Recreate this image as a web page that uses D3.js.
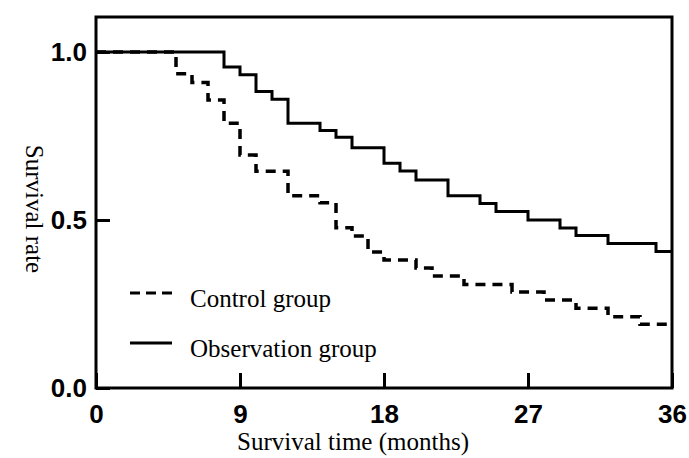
<!DOCTYPE html>
<html>
<head>
<meta charset="UTF-8">
<title>Survival curves</title>
<script src="https://cdn.jsdelivr.net/npm/d3@7"></script>
<style>
  body { margin: 0; background: #fff; }
</style>
</head>
<body>
<script>

// step points: month at which survival drops, survival after the drop
var controlTimes = [0, 5, 6, 7, 8, 9, 10, 12, 14, 15, 16, 17, 18, 20, 21, 23, 26, 28, 30, 32, 34, 36];
var controlRates = [1.0, 0.935, 0.909, 0.857, 0.788, 0.693, 0.645, 0.572, 0.551, 0.477, 0.452, 0.405, 0.381, 0.357, 0.333, 0.308, 0.286, 0.262, 0.237, 0.212, 0.190, 0.190];

var obsTimes = [0, 8, 9, 10, 11, 12, 14, 15, 16, 18, 19, 20, 22, 24, 25, 27, 29, 30, 32, 35, 36];
var obsRates = [1.0, 0.955, 0.932, 0.882, 0.859, 0.788, 0.766, 0.746, 0.715, 0.669, 0.646, 0.619, 0.572, 0.549, 0.525, 0.500, 0.476, 0.454, 0.430, 0.406, 0.406];

var xTicks = [0, 9, 18, 27, 36];
var yTicks = [0, 0.5, 1.0];
var seriesNames = ["Control group", "Observation group"];

var W = 689, H = 458;
var pLeft = 96, pRight = 672, pTop = 17, pBottom = 388;

var svg = d3.select("body").append("svg")
    .attr("width", W)
    .attr("height", H);

var x = d3.scaleLinear().domain([0, 36]).range([pLeft, pRight]);
var y = d3.scaleLinear().domain([0, 1.104]).range([pBottom, pTop]);

var line = d3.line()
    .x(function(d){ return x(d[0]); })
    .y(function(d){ return y(d[1]); })
    .curve(d3.curveStepAfter);

var control = controlTimes.map(function(t, i){ return [t, controlRates[i]]; });
var obs = obsTimes.map(function(t, i){ return [t, obsRates[i]]; });

svg.append("path")
    .datum(control)
    .attr("d", line)
    .attr("fill", "none")
    .attr("stroke", "#000")
    .attr("stroke-width", 3.5)
    .attr("stroke-dasharray", "10,7");

svg.append("path")
    .datum(obs)
    .attr("d", line)
    .attr("fill", "none")
    .attr("stroke", "#000")
    .attr("stroke-width", 3);

// axes, ticks inward
var xAxis = svg.append("g")
    .attr("transform", "translate(0," + pBottom + ")")
    .call(d3.axisBottom(x).tickValues(xTicks).tickSizeInner(-15).tickSizeOuter(0).tickPadding(17));

var yAxis = svg.append("g")
    .attr("transform", "translate(" + pLeft + ",0)")
    .call(d3.axisLeft(y).tickValues(yTicks).tickFormat(d3.format(".1f")).tickSizeInner(-14).tickSizeOuter(0).tickPadding(9));

[xAxis, yAxis].forEach(function(a){
    a.select(".domain").remove();
    a.selectAll(".tick line").attr("stroke", "#000").attr("stroke-width", 3);
    a.selectAll(".tick text")
        .attr("fill", "#000")
        .style("font-family", "'Liberation Sans', Arial, sans-serif")
        .style("font-weight", "bold")
        .style("font-size", "26px");
});

// frame
svg.append("rect")
    .attr("x", pLeft)
    .attr("y", pTop)
    .attr("width", pRight - pLeft)
    .attr("height", pBottom - pTop)
    .attr("fill", "none")
    .attr("stroke", "#000")
    .attr("stroke-width", 3);

// axis titles
var serif = "'Liberation Serif', 'Times New Roman', serif";

svg.append("text")
    .attr("x", 353)
    .attr("y", 450)
    .attr("text-anchor", "middle")
    .style("font-family", serif)
    .style("font-size", "25px")
    .text("Survival time (months)");

svg.append("text")
    .attr("transform", "translate(26,209) rotate(90)")
    .attr("text-anchor", "middle")
    .style("font-family", serif)
    .style("font-size", "25px")
    .text("Survival rate");

// legend
var legend = svg.append("g");
var legendY = [293, 343];
seriesNames.forEach(function(name, i){
    legend.append("line")
        .attr("x1", 130).attr("x2", 172)
        .attr("y1", legendY[i]).attr("y2", legendY[i])
        .attr("stroke", "#000")
        .attr("stroke-width", 3)
        .attr("stroke-dasharray", i === 0 ? "10,6" : null);
    legend.append("text")
        .attr("x", 190)
        .attr("y", legendY[i] + 14)
        .style("font-family", serif)
        .style("font-size", "25px")
        .text(name);
});

</script>
</body>
</html>
